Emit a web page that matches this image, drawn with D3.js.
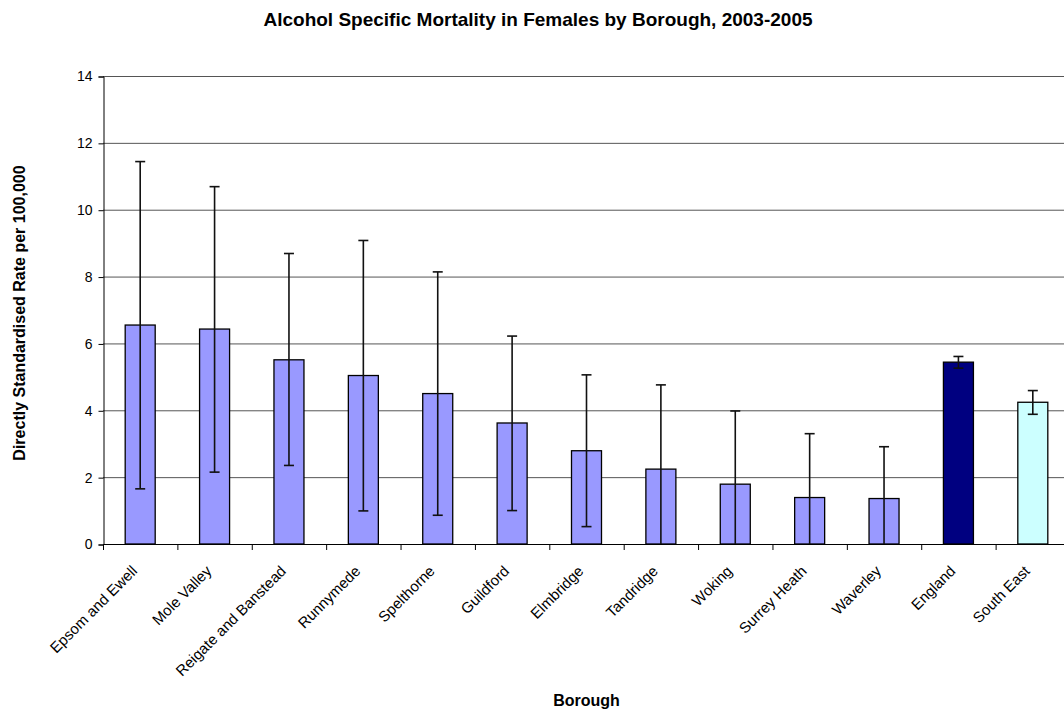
<!DOCTYPE html>
<html>
<head>
<meta charset="utf-8">
<script src="https://d3js.org/d3.v7.min.js"></script>
<style>
  body { margin: 0; background: #fff; }
  svg { display: block; font-family: "Liberation Sans", Arial, sans-serif; }
</style>
</head>
<body>
<svg id="chart" width="1064" height="710"></svg>
<script>
// borough names along the x axis
var boroughs = ['Epsom and Ewell', 'Mole Valley', 'Reigate and Banstead', 'Runnymede',
  'Spelthorne', 'Guildford', 'Elmbridge', 'Tandridge', 'Woking', 'Surrey Heath',
  'Waverley', 'England', 'South East'];
// directly standardised rate per 100,000
var rates = [6.55, 6.43, 5.51, 5.04, 4.5, 3.62, 2.79, 2.24, 1.79, 1.39, 1.36, 5.44, 4.24];
// confidence limits (lower ones at 0 fall below the axis)
var lowerCI = [1.65, 2.15, 2.35, 0.99, 0.86, 1.0, 0.52, 0, 0, 0, 0, 5.26, 3.88];
var upperCI = [11.44, 10.69, 8.69, 9.08, 8.14, 6.22, 5.06, 4.76, 3.98, 3.30, 2.91, 5.61, 4.59];
var yTicks = [0, 2, 4, 6, 8, 10, 12, 14];

var svg = d3.select('#chart');
// plot area (runs a little past the right edge, as in the original)
var plotLeft = 103, plotTop = 76, plotBottom = 544, plotRight = 1070;

var x = d3.scaleBand().domain(boroughs).range([plotLeft, plotRight]);
var y = d3.scaleLinear().domain([0, 14]).range([plotBottom, plotTop]);

function barColour(name) {
  if (name == 'England') return '#000080';
  if (name == 'South East') return '#ccffff';
  return '#9999ff';
}

// gridlines
svg.append('g').selectAll('line').data(yTicks.slice(1)).enter().append('line')
  .attr('x1', plotLeft).attr('x2', plotRight)
  .attr('y1', function(d) { return y(d) + 0.5; }).attr('y2', function(d) { return y(d) + 0.5; })
  .attr('stroke', '#555').attr('stroke-width', 1);

// bars
var bw = 30;
svg.append('g').selectAll('rect').data(boroughs).enter().append('rect')
  .attr('x', function(d) { return x(d) + x.bandwidth() / 2 - bw / 2; })
  .attr('y', function(d, i) { return y(rates[i]); })
  .attr('width', bw)
  .attr('height', function(d, i) { return plotBottom - y(rates[i]); })
  .attr('fill', function(d) { return barColour(d); })
  .attr('stroke', '#000').attr('stroke-width', 1.3);

// error bars
var eb = svg.append('g').attr('stroke', '#111').attr('stroke-width', 1.6);
boroughs.forEach(function(d, i) {
  var cx = x(d) + x.bandwidth() / 2;
  eb.append('line').attr('x1', cx).attr('x2', cx)
    .attr('y1', y(lowerCI[i])).attr('y2', y(upperCI[i]));
  eb.append('line').attr('x1', cx - 5).attr('x2', cx + 5)
    .attr('y1', y(upperCI[i])).attr('y2', y(upperCI[i]));
  if (lowerCI[i] > 0) {
    eb.append('line').attr('x1', cx - 5).attr('x2', cx + 5)
      .attr('y1', y(lowerCI[i])).attr('y2', y(lowerCI[i]));
  }
});

// y axis
var yAxis = svg.append('g').attr('transform', 'translate(' + (plotLeft + 0.5) + ',0.5)')
  .call(d3.axisLeft(y).tickValues(yTicks).tickSize(5).tickPadding(6));
yAxis.select('.domain').attr('stroke', '#000');
yAxis.selectAll('text').attr('font-size', 14).attr('fill', '#000');

// x axis with ticks between the categories
var xg = svg.append('g');
xg.append('line').attr('x1', plotLeft).attr('x2', plotRight)
  .attr('y1', plotBottom + 0.5).attr('y2', plotBottom + 0.5).attr('stroke', '#000');
xg.selectAll('line.tk').data(d3.range(boroughs.length + 1)).enter().append('line')
  .attr('class', 'tk')
  .attr('x1', function(i) { return plotLeft + i * x.step() + 0.5; })
  .attr('x2', function(i) { return plotLeft + i * x.step() + 0.5; })
  .attr('y1', plotBottom).attr('y2', plotBottom + 6).attr('stroke', '#000');
xg.selectAll('text').data(boroughs).enter().append('text')
  .attr('transform', function(d) {
    return 'translate(' + (x(d) + x.bandwidth() / 2 - 2) + ',' + (plotBottom + 28) + ') rotate(-45)';
  })
  .attr('text-anchor', 'end')
  .attr('font-size', 15).attr('fill', '#000')
  .text(function(d) { return d; });

// titles
svg.append('text').attr('x', 538).attr('y', 26).attr('text-anchor', 'middle')
  .attr('font-size', 19).attr('font-weight', 'bold')
  .text('Alcohol Specific Mortality in Females by Borough, 2003-2005');
svg.append('text').attr('x', (plotLeft + plotRight) / 2).attr('y', 706).attr('text-anchor', 'middle')
  .attr('font-size', 16).attr('font-weight', 'bold').text('Borough');
svg.append('text').attr('transform', 'translate(24.5,313) rotate(-90)')
  .attr('text-anchor', 'middle').attr('font-size', 16).attr('font-weight', 'bold')
  .text('Directly Standardised Rate per 100,000');
</script>
</body>
</html>
